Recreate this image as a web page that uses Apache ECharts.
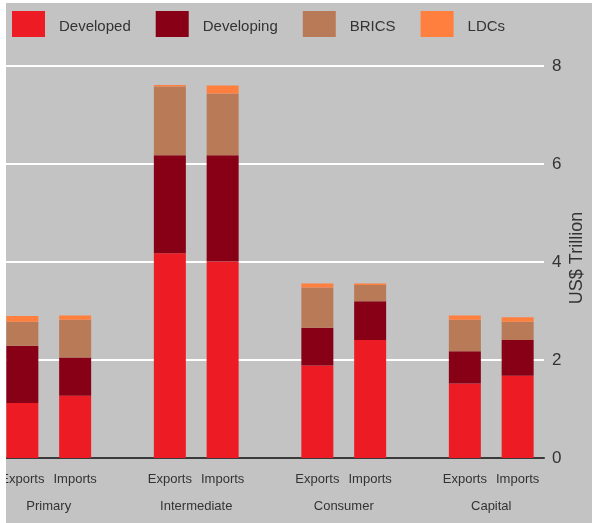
<!DOCTYPE html>
<html>
<head>
<meta charset="utf-8">
<script src="https://cdn.jsdelivr.net/npm/echarts@6/dist/echarts.min.js"></script>
<style>
  html, body { margin: 0; padding: 0; background: #ffffff; overflow: hidden; }
  #frame { position: absolute; left: 6px; top: 3px; width: 586px; height: 520px; background: #c3c3c3; }
  #chart { position: absolute; left: -26px; top: 3px; width: 618px; height: 520px; }
  #edge { position: absolute; left: 0; top: 0; width: 6px; height: 523px; background: #ffffff; z-index: 5; }
</style>
</head>
<body>
<div id="frame"></div>
<div id="chart"></div>
<div id="edge"></div>
<script>
// Goods trade by stage of production (US$ trillion), split by economy group
const stages = ['Primary', 'Intermediate', 'Consumer', 'Capital'];
const flows = ['Exports', 'Imports'];
const groups = ['Developed', 'Developing', 'BRICS', 'LDCs'];
const groupColors = ['#ed1c24', '#880015', '#b97a57', '#ff7f3f'];

// Values per stage (Primary, Intermediate, Consumer, Capital)
const exportsDeveloped  = [1.12, 4.18, 1.89, 1.52];
const exportsDeveloping = [1.17, 2.00, 0.77, 0.66];
const exportsBRICS      = [0.49, 1.40, 0.82, 0.64];
const exportsLDCs       = [0.12, 0.03, 0.08, 0.09];

const importsDeveloped  = [1.27, 4.01, 2.41, 1.68];
const importsDeveloping = [0.78, 2.17, 0.79, 0.73];
const importsBRICS      = [0.77, 1.26, 0.33, 0.37];
const importsLDCs       = [0.09, 0.16, 0.03, 0.09];

const yTicks = { min: 0, max: 8, interval: 2 };

const exportsData = [exportsDeveloped, exportsDeveloping, exportsBRICS, exportsLDCs];
const importsData = [importsDeveloped, importsDeveloping, importsBRICS, importsLDCs];

const textColor = '#333333';
const fontFamily = 'Liberation Sans, Arial, sans-serif';

function makeSeries(flowName, dataSet) {
  return groups.map((g, i) => ({
    name: g,
    type: 'bar',
    stack: flowName,
    xAxisIndex: 0,
    yAxisIndex: 0,
    barWidth: 32,
    barGap: '65%',
    data: dataSet[i],
    itemStyle: { color: groupColors[i] },
    label: i === 0 ? {
      show: true,
      position: 'bottom',
      distance: 15,
      formatter: flowName,
      color: textColor,
      fontSize: 13,
      fontFamily: fontFamily
    } : { show: false },
    emphasis: { disabled: true }
  }));
}

const chart = echarts.init(document.getElementById('chart'));
chart.setOption({
  backgroundColor: 'transparent',
  animation: false,
  legend: {
    data: groups,
    left: 33,
    top: 3,
    itemWidth: 33,
    itemHeight: 26,
    itemGap: 25,
    icon: 'rect',
    formatter: '{t|{name}}',
    textStyle: {
      color: textColor,
      fontSize: 15,
      fontFamily: fontFamily,
      rich: {
        t: { color: textColor, fontSize: 15, fontFamily: fontFamily, padding: [6, 0, 0, 9] }
      }
    }
  },
  grid: [
    // bars and stage labels
    { left: 1, right: 27, top: 63, bottom: 65, outerBoundsMode: 'none' },
    // value scale, gridlines and baseline
    { left: 32, right: 48, top: 63, bottom: 65, outerBoundsMode: 'none' }
  ],
  xAxis: [
    {
      type: 'category',
      gridIndex: 0,
      data: stages,
      axisLine: { show: false },
      axisTick: { show: false },
      axisLabel: { margin: 42, color: textColor, fontSize: 13, fontFamily: fontFamily }
    },
    {
      type: 'value',
      gridIndex: 1,
      min: 0,
      max: 1,
      axisLine: { show: true, lineStyle: { color: '#3a3a3a', width: 2 } },
      axisTick: { show: false },
      axisLabel: { show: false },
      splitLine: { show: false }
    }
  ],
  yAxis: [
    {
      type: 'value',
      gridIndex: 0,
      min: yTicks.min,
      max: yTicks.max,
      show: false
    },
    {
      type: 'value',
      gridIndex: 1,
      position: 'right',
      min: yTicks.min,
      max: yTicks.max,
      interval: yTicks.interval,
      name: 'US$ Trillion',
      nameLocation: 'middle',
      nameRotate: 90,
      nameGap: 24,
      nameMoveOverlap: false,
      nameTextStyle: { color: textColor, fontSize: 18, fontFamily: fontFamily, padding: [0, 0, 0, 8] },
      axisLine: { show: false },
      axisTick: { show: false },
      axisLabel: { margin: 8, color: textColor, fontSize: 17, fontFamily: fontFamily },
      splitLine: { show: true, lineStyle: { color: '#ffffff', width: 2 } }
    }
  ],
  series: [...makeSeries(flows[0], exportsData), ...makeSeries(flows[1], importsData)]
});
</script>
</body>
</html>
